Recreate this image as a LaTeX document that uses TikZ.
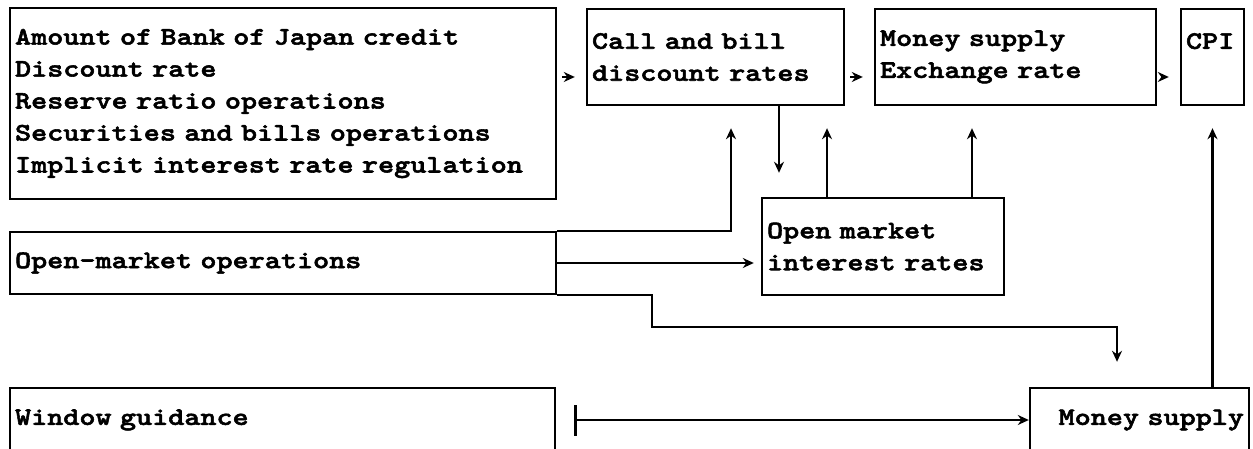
\documentclass[tikz,border=0pt]{standalone}
\usepackage{fontspec}
\newfontfamily\diagfont{lmmonolt10-bold.otf}[FakeStretch=1.22, FakeBold=2.2]
\usetikzlibrary{positioning,arrows.meta}

\tikzset{
  blk/.style={draw, line width=1.4pt, align=left, inner xsep=0.1cm, inner ysep=0pt,
    font=\diagfont\fontsize{14.3pt}{18.2pt}\selectfont},
  link/.style={line width=1.4pt, -{Stealth[length=2.2mm,width=2mm]}},
  harr/.style={link, shorten <=0.1cm, shorten >=0.22cm},
  varr/.style={link, shorten >=0.44cm}
}

\begin{document}
\begin{tikzpicture}[x=0.02cm, y=-0.02cm]
    \useasboundingbox (0,0) rectangle (1253,449);
    \clip (0,0) rectangle (1253,449);

    % Left column - policy instruments
    \node[blk, text width=10.72cm, minimum height=3.82cm] (credit) at (283,103.5)
        {Amount of Bank of Japan credit\\Discount rate\\Reserve ratio operations\\Securities and bills operations\\Implicit interest rate regulation};
    \node[blk, text width=10.72cm, minimum height=1.24cm] (omo) at (283,263) {Open-market operations};
    \node[blk, text width=10.70cm, minimum height=1.28cm] (wg) at (282.5,420) {Window guidance};

    % Top row - rates and targets
    \node[blk, text width=4.94cm, minimum height=1.92cm] (callrate) at (715.5,57) {Call and bill\\discount rates};
    \node[blk, text width=5.42cm, minimum height=1.92cm] (msx) at (1015.5,57) {Money supply\\Exchange rate};
    \node[blk, text width=1.06cm, minimum height=1.92cm] (cpi) at (1212.5,57) {CPI\\\phantom{I}};

    % Middle and bottom
    \node[blk, text width=4.64cm, minimum height=1.94cm] (omir) at (883,246.5) {Open market\\interest rates};
    \node[blk, text width=4.18cm, minimum height=1.28cm, align=right] (ms) at (1139.5,420) {Money supply};

    % Top row arrows
    \coordinate (b1) at ([yshift=-0.4cm]callrate.west);
    \draw[harr] (credit.east |- b1) -- (b1);
    \draw[harr] ([yshift=-0.4cm]callrate.east) -- ([yshift=-0.4cm]msx.west);
    \draw[harr] ([yshift=-0.4cm]msx.east) -- ([yshift=-0.4cm]cpi.west);

    % Vertical arrows
    \draw[varr] (omo.north east) -| ([xshift=0.31cm]callrate.south);
    \draw[varr, shorten >=0.48cm] ([xshift=1.27cm]callrate.south) -- ([xshift=1.27cm]callrate.south |- omir.north);
    \draw[varr] ([xshift=-1.12cm]omir.north) -- ([xshift=-1.12cm]omir.north |- callrate.south);
    \draw[varr] ([xshift=1.78cm]omir.north) -- ([xshift=1.78cm]omir.north |- msx.south);
    \draw[varr] (ms.north -| cpi.south) -- (cpi.south);

    % Open-market operations
    \draw[link, shorten >=0.14cm] (omo.east) -- (omo.east -| omir.west);
    \draw[varr, shorten >=0.5cm] (omo.south east) -- ++(1.9cm,0) -- ++(0,-0.64cm) -| ([xshift=-0.45cm]ms.north);

    % Window guidance
    \draw[link, {Bar[width=0.62cm]}-{Stealth[length=2.2mm,width=2mm]}] ([xshift=0.36cm]wg.east) -- (ms.west);
\end{tikzpicture}
\end{document}
